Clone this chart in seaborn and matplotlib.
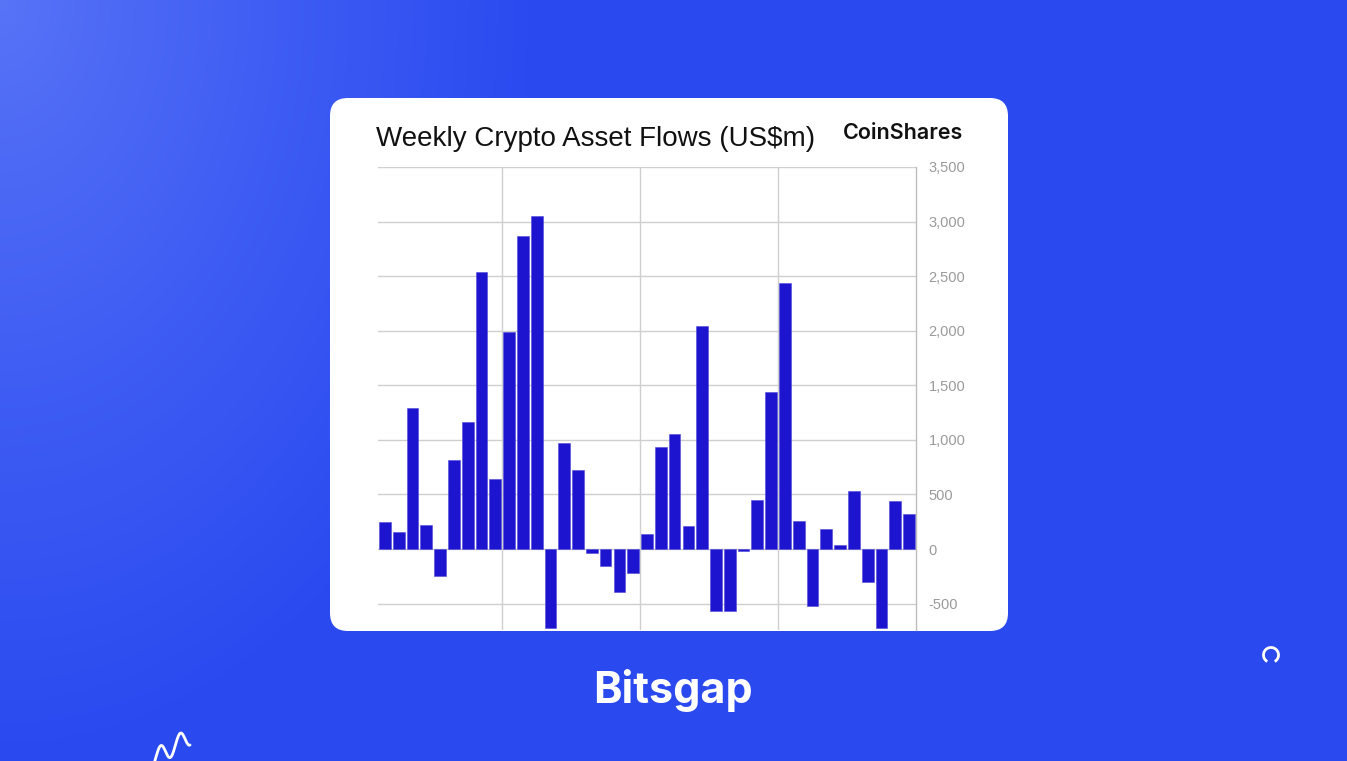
import numpy as np
import pandas as pd
import seaborn as sns
import matplotlib.pyplot as plt
from matplotlib.patches import FancyBboxPatch, Arc
from matplotlib.ticker import FuncFormatter, MultipleLocator

# weekly flows, US$m, oldest first
weeks = list(range(1, 40))
flows = [245, 153, 1289, 223, -245, 813, 1161, 2535, 644, 1991,
         2868, 3051, -725, 974, 724, -37, -159, -391, -223, 140,
         934, 1050, 214, 2040, -565, -565, -21, 449, 1441, 2434,
         256, -522, 180, 34, 534, -299, -721, 437, 321]
month_breaks = [8.5, 18.5, 28.5]

df = pd.DataFrame({"week": weeks, "flow": flows})

W, H = 1347, 761
fig = plt.figure(figsize=(W / 100, H / 100), dpi=100)

# blue gradient background
bg = fig.add_axes([0, 0, 1, 1])
yy, xx = np.mgrid[0:H, 0:W]
d = np.clip(np.hypot(xx / 540.0, yy / 760.0), 0, 1) ** 0.9
c0 = np.array([0x58, 0x74, 0xf7]) / 255
c1 = np.array([0x2a, 0x4a, 0xf0]) / 255
img = c0[None, None, :] * (1 - d[..., None]) + c1[None, None, :] * d[..., None]
bg.imshow(img, extent=[0, W, H, 0], aspect="auto")
bg.set_xlim(0, W)
bg.set_ylim(H, 0)
bg.axis("off")

# white card
card = FancyBboxPatch((330 + 18, 98 + 18), 678 - 36, 533 - 36,
                      boxstyle="round,pad=18", fc="white", ec="none")
bg.add_patch(card)

# small decorations
t = np.linspace(0, 1, 160)
sx = 146 + 44 * t
sy = 764 - 28 * t + 9 * np.sin(t * 4.5 * np.pi)
bg.plot(sx, sy, color="white", lw=2, solid_capstyle="round")
bg.add_patch(Arc((1271, 655), 15, 15, theta1=120, theta2=420, color="white", lw=2))

fig.text(673 / W, 1 - 691 / H, "Bitsgap", color="white", fontsize=31,
         fontweight="bold", family=["Inter", "DejaVu Sans"], ha="center", va="center")

# chart
ax = fig.add_axes([378 / W, 1 - 630 / H, (916 - 378) / W, (630 - 167) / H])
sns.barplot(data=df, x="week", y="flow", color="#1d14cf", width=0.85,
            saturation=1, ax=ax, edgecolor="#5048d8", linewidth=0.4)
ax.set_xlim(-0.5, len(weeks) - 0.5)
ax.set_ylim(-742, 3500)
ax.yaxis.set_major_locator(MultipleLocator(500))
ax.yaxis.tick_right()
ax.yaxis.set_major_formatter(FuncFormatter(lambda v, p: f"{int(v):,}"))
ax.tick_params(axis="y", length=0, pad=9, labelsize=10.5, labelcolor="#9a9a9a")
for lab in ax.get_yticklabels():
    lab.set_family(["Liberation Sans", "DejaVu Sans"])
ax.tick_params(axis="x", length=0, labelbottom=False)
ax.set_xlabel("")
ax.set_ylabel("")
ax.grid(axis="y", color="#cfcfcf", lw=1)
for b in month_breaks:
    ax.axvline(b, color="#cfcfcf", lw=1, zorder=0)
ax.set_axisbelow(True)
for s in ["top", "left", "bottom"]:
    ax.spines[s].set_visible(False)
ax.spines["right"].set_color("#bdbdbd")
ax.spines["right"].set_linewidth(1)

fig.text(376 / W, 1 - 139 / H, "Weekly Crypto Asset Flows (US$m)", fontsize=20,
         family=["Liberation Sans", "DejaVu Sans"], color="#111111", ha="left", va="center")
fig.text(963 / W, 1 - 133 / H, "CoinShares", fontsize=15.5, fontweight="semibold",
         family=["Inter", "DejaVu Sans"], color="#111111", ha="right", va="center")

fig.savefig("out.png", dpi=100)
